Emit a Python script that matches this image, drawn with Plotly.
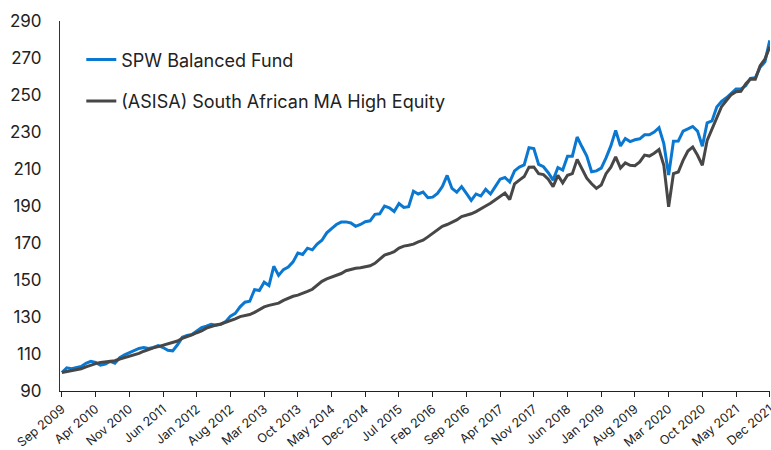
import plotly.graph_objects as go
import pandas as pd

months = pd.date_range("2009-09-01", "2021-12-01", freq="MS")
month_index = list(range(len(months)))

tick_labels = ["Sep 2009", "Apr 2010", "Nov 2010", "Jun 2011", "Jan 2012", "Aug 2012",
               "Mar 2013", "Oct 2013", "May 2014", "Dec 2014", "Jul 2015", "Feb 2016",
               "Sep 2016", "Apr 2017", "Nov 2017", "Jun 2018", "Jan 2019", "Aug 2019",
               "Mar 2020", "Oct 2020", "May 2021", "Dec 2021"]

spw_balanced = [
    100, 102.5, 102, 102.8, 103.2, 105, 106, 105.5, 104, 104.5,
    106, 105, 108, 109.5, 110.8, 111.8, 113, 113.5, 113, 113.5,
    114.5, 113.5, 112, 111.7, 115, 119, 120, 120.5, 122.5, 124.3,
    125, 126, 125.5, 126, 127.5, 130.5, 132, 135.5, 138, 138.5,
    144.8, 144.3, 148.8, 147, 157.4, 152.5, 155.6, 157, 159.8, 164.6,
    163.8, 167.2, 166.3, 169.4, 171.5, 175.5, 177.8, 180, 181.3, 181.4,
    180.8, 179, 180, 181.5, 182, 185.5, 185.8, 190, 189, 187,
    191.3, 189.2, 189.6, 198, 196.5, 197.5, 194.5, 194.8, 196.8, 200.5,
    206.5, 199.5, 197.5, 200.5, 196.8, 193, 196.5, 195.4, 199, 196.5,
    200.5, 204.5, 205.4, 203, 209, 211, 212.2, 221.5, 221, 212.5,
    211.2, 208, 204, 210.8, 209.4, 216.9, 216.9, 227.3, 222, 217,
    208.5, 209, 210.5, 216, 222.5, 230.9, 222.4, 226.5, 224.8, 225.8,
    226.3, 228.5, 228.5, 230, 232.3, 223.7, 206.7, 225, 225.1, 230.5,
    231.7, 233, 230.5, 222.3, 235, 236, 243.5, 246.5, 248.5, 251,
    253.2, 253.3, 255, 259, 259.3, 265, 268, 279.5,
]

asisa_ma_high_equity = [
    100, 100.4, 100.8, 101.2, 102, 103, 104, 104.8, 105.4, 105.8,
    106.1, 106.4, 107.3, 108, 108.7, 109.5, 110.3, 111.5, 112.6, 113.3,
    114, 114.8, 115.5, 116.3, 117, 118.5, 119.3, 120.3, 121.5, 122.5,
    124, 125, 125.7, 126.2, 127, 128, 129, 130.2, 130.8, 131.3,
    132.5, 134, 135.5, 136.3, 136.7, 137.5, 139, 140.3, 141.2, 141.8,
    142.6, 143.8, 145, 147.3, 149.3, 150.6, 151.6, 152.3, 153.5, 155,
    155.8, 156.3, 156.6, 157, 157.7, 159, 161, 163.5, 164.3, 165.3,
    167.3, 168.3, 168.8, 169.4, 170.6, 171.5, 173.3, 175.3, 177.3, 179,
    180, 181.2, 182.5, 184.3, 185, 185.8, 187, 188.3, 190, 191.5,
    193.5, 195.5, 197, 193.5, 202, 204, 205.9, 211, 211.1, 207.5,
    207, 204.5, 200.5, 206.6, 202.5, 206.6, 207.5, 215.2, 210.5, 205,
    202, 199.5, 201.3, 207.5, 211, 216.5, 210.5, 213.3, 212, 211.8,
    213.8, 217.5, 217, 218.5, 220.5, 212, 189.6, 207.5, 208.4, 214.7,
    219.7, 221.9, 217.4, 212, 225.5, 231.8, 238, 243.8, 247, 250.2,
    251.8, 252, 256, 258.7, 258.5, 265.8, 269.4, 276,
]

y_ticks = [90, 110, 130, 150, 170, 190, 210, 230, 250, 270, 290]
hover_text = [d.strftime("%b %Y") for d in months]

FONT = "Inter"

fig = go.Figure()
fig.add_trace(go.Scatter(
    x=month_index, y=spw_balanced, mode="lines", name="SPW Balanced Fund",
    text=hover_text, line=dict(color="#0a78d0", width=3), legendgroup="a"))
fig.add_trace(go.Scatter(
    x=month_index, y=asisa_ma_high_equity, mode="lines",
    name="(ASISA) South African MA High Equity",
    text=hover_text, line=dict(color="#474747", width=3), legendgroup="b"))

fig.update_layout(
    width=771, height=450,
    margin=dict(l=60, r=1, t=21, b=59),
    paper_bgcolor="white", plot_bgcolor="white",
    font=dict(family=FONT, color="#222222"),
    showlegend=True,
    legend=dict(x=0.03, y=0.945, xanchor="left", yanchor="top",
                font=dict(size=18, family=FONT, color="#222222"),
                bgcolor="rgba(0,0,0,0)", tracegroupgap=15,
                traceorder="grouped", itemwidth=30),
    xaxis=dict(
        range=[-0.4, len(months) - 1 + 0.05],
        tickvals=month_index[::7], ticktext=tick_labels,
        tickangle=-40, tickfont=dict(size=12.5, family=FONT),
        showline=True, linecolor="#222222", linewidth=1,
        ticks="outside", ticklen=5, tickcolor="#222222",
        ticklabeloverflow="allow", automargin=False,
        showgrid=False, zeroline=False),
    yaxis=dict(
        range=[90, 290], tickvals=y_ticks,
        tickfont=dict(size=17, family=FONT),
        showline=True, linecolor="#333333", linewidth=1,
        ticks="", ticklabelstandoff=14, automargin=False,
        showgrid=False, zeroline=False),
)

fig.write_html("out.html", config={"displayModeBar": False},
               post_script="document.body.style.margin='0';")
